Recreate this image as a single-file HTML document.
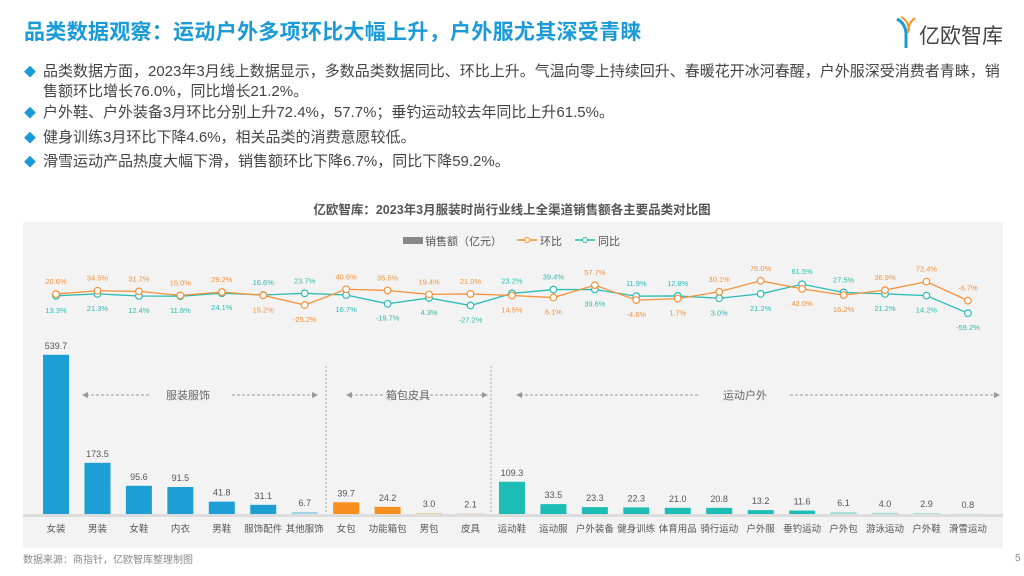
<!DOCTYPE html>
<html><head><meta charset="utf-8"><style>
body{margin:0;width:1024px;height:576px;background:#fff;overflow:hidden;font-family:"Liberation Sans","Noto Sans CJK SC",sans-serif;position:relative}
.title{position:absolute;left:24px;top:16px;font-size:21px;font-weight:bold;color:#1a9bd7;letter-spacing:0.3px}
.bul{position:absolute;left:24px;font-size:15px;color:#444;line-height:19px;width:995px;white-space:nowrap}
.bul span.d{color:#1a9bd7;font-size:12px;display:inline-block;width:19px}
.ct{position:absolute;left:0;width:1024px;top:199px;text-align:center;font-size:12.5px;font-weight:bold;color:#555}
</style></head><body>
<div class="title">品类数据观察：运动户外多项环比大幅上升，户外服尤其深受青睐</div>
<div style="position:absolute;left:895px;top:15px;width:120px;height:34px">
<svg width="22" height="34" style="position:absolute;left:0;top:0"><path d="M2 4 Q10 8 11 18 L11 33" stroke="#1a9bd7" stroke-width="3" fill="none"/><path d="M6 2 Q14 6 14 16" stroke="#f7931e" stroke-width="2" fill="none"/><path d="M20 3 Q13 8 13 18" stroke="#f7931e" stroke-width="2" fill="none"/></svg>
<span style="position:absolute;left:24px;top:5px;font-size:21px;color:#444">亿欧智库</span></div>
<div class="bul" style="top:62px"><span class="d">◆</span>品类数据方面，2023年3月线上数据显示，多数品类数据同比、环比上升。气温向零上持续回升、春暖花开冰河春醒，户外服深受消费者青睐，销<br><span style="padding-left:19px">售额环比增长76.0%，同比增长21.2%。</span></div>
<div class="bul" style="top:103px"><span class="d">◆</span>户外鞋、户外装备3月环比分别上升72.4%，57.7%；垂钓运动较去年同比上升61.5%。</div>
<div class="bul" style="top:128px"><span class="d">◆</span>健身训练3月环比下降4.6%，相关品类的消费意愿较低。</div>
<div class="bul" style="top:152px"><span class="d">◆</span>滑雪运动产品热度大幅下滑，销售额环比下降6.7%，同比下降59.2%。</div>
<div class="ct">亿欧智库：2023年3月服装时尚行业线上全渠道销售额各主要品类对比图</div>
<svg id="chart" width="1024" height="576" style="position:absolute;left:0;top:0"></svg>
<div style="position:absolute;left:23px;top:551px;font-size:10px;color:#888">数据来源：商指针，亿欧智库整理制图</div>
<div style="position:absolute;left:1015px;top:553px;font-size:10px;color:#888">5</div>
<script>
const categories=["女装","男装","女鞋","内衣","男鞋","服饰配件","其他服饰","女包","功能箱包","男包","皮具","运动鞋","运动服","户外装备","健身训练","体育用品","骑行运动","户外服","垂钓运动","户外包","游泳运动","户外鞋","滑雪运动"];
const sales=[539.7,173.5,95.6,91.5,41.8,31.1,6.7,39.7,24.2,3.0,2.1,109.3,33.5,23.3,22.3,21.0,20.8,13.2,11.6,6.1,4.0,2.9,0.8];
const mom=[20.6,34.5,31.7,15.0,29.2,15.2,-25.2,40.6,35.5,19.4,21.0,14.5,6.1,57.7,-4.6,1.7,30.1,76.0,42.0,16.2,36.9,72.4,-6.7];
const yoy=[13.3,21.3,12.4,11.8,24.1,16.6,23.7,16.7,-19.7,4.3,-27.2,23.2,39.4,39.6,11.9,12.8,3.0,21.2,61.5,27.5,21.2,14.2,-59.2];
const groups=[0,0,0,0,0,0,0,1,1,1,1,2,2,2,2,2,2,2,2,2,2,2,2];
const gColors=["#1d9fd6","#f7901e","#1dbdb5"];
const NS="http://www.w3.org/2000/svg",svg=document.getElementById('chart');
function mk(t,a,txt){const e=document.createElementNS(NS,t);for(const k in a)e.setAttribute(k,a[k]);if(txt!=null)e.textContent=txt;svg.appendChild(e);return e;}
const xs=i=>56+i*41.45, base=514, ys=v=>base-v*0.295, yl=v=>299-v*0.24;
let e=mk('rect',{x:23,y:222,width:980,height:326,fill:'#f3f3f3'});

e=mk('rect',{x:403,y:237,width:20,height:7,fill:'#888'});
mk('text',{x:425,y:245,'font-size':11,fill:'#555'},'销售额（亿元）');
e=mk('line',{x1:517,y1:240,x2:537,y2:240,stroke:'#f7901e','stroke-width':1.5});
mk('circle',{cx:527,cy:240,r:2.5,fill:'#fff',stroke:'#f7901e'});mk('text',{x:540,y:245,'font-size':11,fill:'#555'},'环比');
e=mk('line',{x1:575,y1:240,x2:595,y2:240,stroke:'#1dbdb5','stroke-width':1.5});
mk('circle',{cx:585,cy:240,r:2.5,fill:'#fff',stroke:'#1dbdb5'});mk('text',{x:598,y:245,'font-size':11,fill:'#555'},'同比');
e=mk('rect',{x:23,y:514,width:980,height:3,fill:'#ddd'});
[326,491].forEach(x=>{const d=mk('line',{x1:x,y1:366,x2:x,y2:514,stroke:'#aaa','stroke-dasharray':'2,2'});});
[[82,150,188,'服装服饰',232,318],[346,385,408,'箱包皮具',430,488],[516,700,745,'运动户外',790,1000]].forEach(g=>{
 mk('line',{x1:g[0]+4,y1:395,x2:g[1],y2:395,stroke:'#999','stroke-dasharray':'3,2'});
 mk('path',{d:`M${g[0]} 395 l6 -3 v6z`,fill:'#999'});
 const t=mk('text',{x:g[2],y:399,'font-size':11,fill:'#666','text-anchor':'middle'},g[3]);
 mk('line',{x1:g[4],y1:395,x2:g[5]-4,y2:395,stroke:'#999','stroke-dasharray':'3,2'});
 mk('path',{d:`M${g[5]} 395 l-6 -3 v6z`,fill:'#999'});
});
categories.forEach((c,i)=>{
 const y=ys(sales[i]);
 const light=sales[i]<10;
 const b=mk('rect',{x:xs(i)-13,y:y,width:26,height:base-y,fill:gColors[groups[i]],opacity:light?0.4:1});
 
 mk('text',{x:xs(i),y:y-6,'font-size':9,fill:'#555','text-anchor':'middle'},sales[i].toFixed(1));
 const l=mk('text',{x:xs(i),y:532,'font-size':9.5,fill:'#555','text-anchor':'middle'},c);
});
function series(vals,col,name,other){
 const p=mk('polyline',{points:vals.map((v,i)=>xs(i)+','+yl(v)).join(' '),fill:'none',stroke:col,'stroke-width':1.3});
 
 vals.forEach((v,i)=>{
  const c=mk('circle',{cx:xs(i),cy:yl(v),r:3.3,fill:'#fff',stroke:col,'stroke-width':1.2});
  
  const above=v>=other[i];
  mk('text',{x:xs(i),y:above?yl(v)-10:yl(v)+17,'font-size':7.5,fill:col,'text-anchor':'middle'},v.toFixed(1)+'%');
 });
}
series(yoy,'#2bbcb4','yoy',mom);
series(mom,'#f5923a','mom',yoy);
</script>
</body></html>
